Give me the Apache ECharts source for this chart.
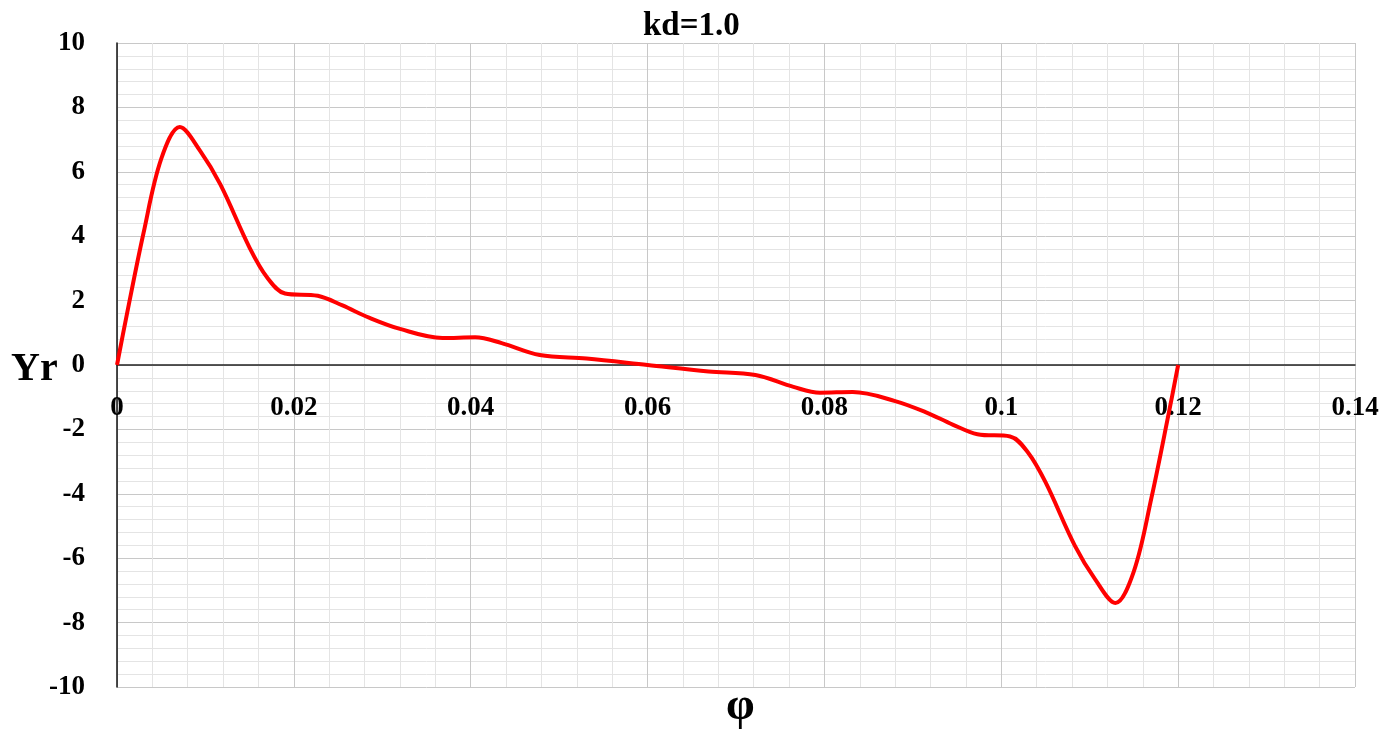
<!DOCTYPE html>
<html>
<head>
<meta charset="utf-8">
<script src="https://cdn.jsdelivr.net/npm/echarts@6/dist/echarts.min.js"></script>
<style>html,body{margin:0;padding:0;background:#fff;}#chart{width:1400px;height:729px;}</style>
</head>
<body>
<div id="chart"></div>
<script>
const titleText = 'kd=1.0';
const xName = 'φ';
const yName = 'Yr';
const phi = [0, 0.0011, 0.003, 0.0050, 0.0071, 0.0094, 0.0117, 0.0150, 0.0170, 0.0190, 0.0227, 0.0255, 0.0285, 0.0320, 0.0368, 0.0405, 0.0435, 0.0478, 0.0531, 0.0600,
  0.0669, 0.0722, 0.0765, 0.0795, 0.0832, 0.0880, 0.0915, 0.0945, 0.0973, 0.1010, 0.1030, 0.1050, 0.1083, 0.1106, 0.1129, 0.1150, 0.1170, 0.1189, 0.1200];
const yr = [0, 1.55, 4.1, 6.4, 7.39, 6.65, 5.6, 3.64, 2.71, 2.22, 2.15, 1.85, 1.47, 1.12, 0.84, 0.86, 0.68, 0.31, 0.2, 0,
  -0.2, -0.31, -0.68, -0.86, -0.84, -1.12, -1.47, -1.85, -2.15, -2.22, -2.71, -3.64, -5.6, -6.65, -7.39, -6.4, -4.1, -1.55, 0];
const xTickValues = [0, 0.02, 0.04, 0.06, 0.08, 0.1, 0.12, 0.14];
const xTicks = { min: 0, max: 0.14, interval: 0.02 };
const yTicks = { min: -10, max: 10, interval: 2 };

const font = '"Liberation Serif", "DejaVu Serif", serif';
const chart = echarts.init(document.getElementById('chart'), null, { renderer: 'canvas' });
chart.setOption({
  animation: false,
  backgroundColor: '#fff',
  title: {
    text: titleText, left: 638, top: 5,
    textStyle: { fontFamily: font, fontWeight: 'bold', fontSize: 33, color: '#000' }
  },
  grid: { left: 117, right: 45, top: 43, bottom: 42, containLabel: false, outerBoundsMode: 'none' },
  xAxis: {
    type: 'value', min: xTicks.min, max: xTicks.max, interval: xTicks.interval,
    axisLine: { show: true, onZero: true, lineStyle: { color: '#222', width: 1.5 } },
    axisTick: { show: false },
    axisLabel: { show: false },
    splitLine: { show: true, lineStyle: { color: '#c8c8c8', width: 1 } },
    minorTick: { show: false, splitNumber: 5 },
    minorSplitLine: { show: true, lineStyle: { color: '#e4e4e4', width: 1 } }
  },
  yAxis: {
    type: 'value', min: yTicks.min, max: yTicks.max, interval: yTicks.interval,
    axisLine: { show: true, onZero: false, lineStyle: { color: '#111', width: 1.5 } },
    axisTick: { show: false },
    axisLabel: { margin: 32, fontFamily: font, fontWeight: 'bold', fontSize: 27, color: '#000' },
    splitLine: { show: true, lineStyle: { color: '#c8c8c8', width: 1 } },
    minorTick: { show: false, splitNumber: 5 },
    minorSplitLine: { show: true, lineStyle: { color: '#e4e4e4', width: 1 } }
  },
  graphic: [
    { type: 'text', left: 11, top: 350, style: { text: yName, font: 'bold 40px ' + font, fill: '#000' } },
    { type: 'text', left: 726, top: 684, style: { text: xName, font: 'bold 46px ' + font, fill: '#000' } }
  ],
  series: [
    {
      type: 'scatter', z: 1, silent: true, symbolSize: 0,
      itemStyle: { color: '#fff', opacity: 1 },
      data: xTickValues.map(v => [v, 0]),
      label: {
        show: true, position: 'bottom', distance: 30, opacity: 1,
        textBorderWidth: 0,
        fontFamily: font, fontWeight: 'bold', fontSize: 27, color: '#000',
        formatter: p => String(p.value[0])
      }
    },
    {
      type: 'line', z: 3, data: phi.map((x, i) => [x, yr[i]]),
      smooth: 0.35, showSymbol: false, symbol: 'none',
      lineStyle: { color: '#ff0000', width: 4 }
    }
  ]
});
</script>
</body>
</html>
